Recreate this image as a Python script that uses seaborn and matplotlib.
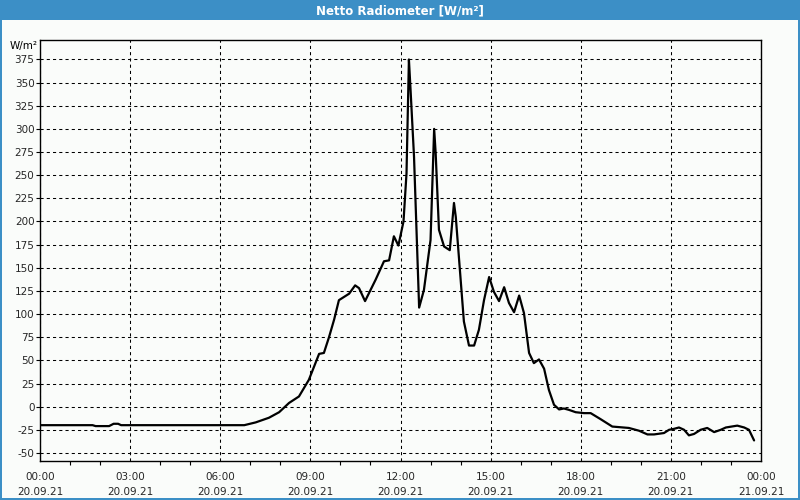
import matplotlib
matplotlib.use("Agg")
import matplotlib.pyplot as plt
import seaborn as sns
import numpy as np
from matplotlib.patches import Rectangle

# ---- data (hours since 20.09.21 00:00, W/m²) ----
hours = [0.0, 1.75, 1.85, 2.3, 2.45, 2.6, 2.7, 6.8, 7.18, 7.62, 7.96, 8.29, 8.62, 8.95,
         9.29, 9.45, 9.62, 9.79, 9.95, 10.29, 10.49, 10.62, 10.82, 11.17, 11.45, 11.62,
         11.78, 11.93, 12.1, 12.2, 12.28, 12.33, 12.45, 12.62, 12.78, 13.0, 13.12, 13.17,
         13.28, 13.45, 13.64, 13.78, 13.84, 14.11, 14.28, 14.45, 14.61, 14.78, 14.95,
         15.11, 15.28, 15.45, 15.61, 15.78, 15.95, 16.11, 16.28, 16.44, 16.61, 16.78,
         16.94, 17.11, 17.28, 17.44, 17.61, 17.83, 18.11, 18.33, 18.66, 19.05, 19.6,
         19.94, 20.22, 20.44, 20.77, 20.94, 21.1, 21.27, 21.44, 21.6, 21.77, 21.99,
         22.21, 22.44, 22.66, 22.83, 23.21, 23.44, 23.6, 23.77]
values = [-20, -20, -21, -21, -18.5, -18.5, -20, -20, -17, -12, -6, 4, 11, 29,
          57, 58, 75, 94, 115, 122, 131, 128, 114, 137, 157, 158,
          184, 174, 200, 252, 375, 345, 270, 107, 126, 180, 300, 274,
          191, 173, 169, 220, 205, 92, 66, 66, 83, 115, 140,
          124, 114, 129, 112, 102, 120, 101, 58, 47, 51, 41,
          18, 2, -3, -2, -3.5, -6, -7, -7, -13.5, -21.5, -23,
          -26, -30, -30, -28.5, -25, -24, -22.5, -25, -31, -29.5, -25,
          -23, -27.5, -25, -22.5, -20.5, -22.5, -25, -36.5]

xtick_pos = [0, 3, 6, 9, 12, 15, 18, 21, 24]
xtick_labels = ["00:00\n20.09.21", "03:00\n20.09.21", "06:00\n20.09.21",
                "09:00\n20.09.21", "12:00\n20.09.21", "15:00\n20.09.21",
                "18:00\n20.09.21", "21:00\n20.09.21", "00:00\n21.09.21"]
ytick_vals = [-50, -25, 0, 25, 50, 75, 100, 125, 150, 175, 200, 225, 250, 275, 300, 325, 350, 375]
title = "Netto Radiometer [W/m²]"
unit = "W/m²"

sns.set_theme(style="white")
plt.rcParams['font.family'] = ['DejaVu Sans']

bg = '#fafcfa'
blue = '#3c8fc6'

fig = plt.figure(figsize=(8, 5), dpi=100, facecolor=bg)
ax = fig.add_axes([40/800, 1-461/500, 721/800, 421/500])
ax.set_facecolor(bg)

sns.lineplot(x=hours, y=values, ax=ax, color='black', lw=1.6, sort=False)

ax.set_xlim(0, 24)
ax.set_ylim(-58.7, 396)
ax.set_xticks(xtick_pos)
ax.set_xticklabels(xtick_labels, fontsize=7.5, linespacing=1.6)
ax.set_xticks(np.arange(0, 25, 1), minor=True)
ax.set_yticks(ytick_vals)
ax.set_yticklabels([str(v) for v in ytick_vals], fontsize=7.5)
ax.tick_params(axis='x', which='major', direction='out', length=4, width=0.8, color='black', pad=4)
ax.tick_params(axis='x', which='minor', direction='out', length=3, width=0.8, color='black', bottom=True)
ax.tick_params(axis='y', which='major', direction='out', length=3, width=0.8, color='black', pad=1, left=True)
ax.grid(True, which='major', color='black', linestyle=(0, (3, 3)), lw=0.75)
for s in ax.spines.values():
    s.set_visible(True)
    s.set_color('black')
    s.set_linewidth(1.0)
ax.set_xlabel('')
ax.set_ylabel('')

# title bar
fig.patches.append(Rectangle((0, 1-20/500), 1, 20/500, transform=fig.transFigure,
                             facecolor=blue, edgecolor='none', zorder=0))
fig.text(0.5, 1-10.5/500, title, ha='center', va='center', color='white',
         fontsize=8.5, fontweight='bold')
# thin border
for rect in [(0, 0, 2/800, 1), (1-2/800, 0, 2/800, 1), (0, 0, 1, 2/500)]:
    fig.patches.append(Rectangle(rect[:2], rect[2], rect[3], transform=fig.transFigure,
                                 facecolor=blue, edgecolor='none', zorder=0))
fig.text(38/800, 1-46/500, unit, ha='right', va='center', fontsize=7.5, color='black')

fig.savefig('out.png', dpi=100, facecolor=bg)
